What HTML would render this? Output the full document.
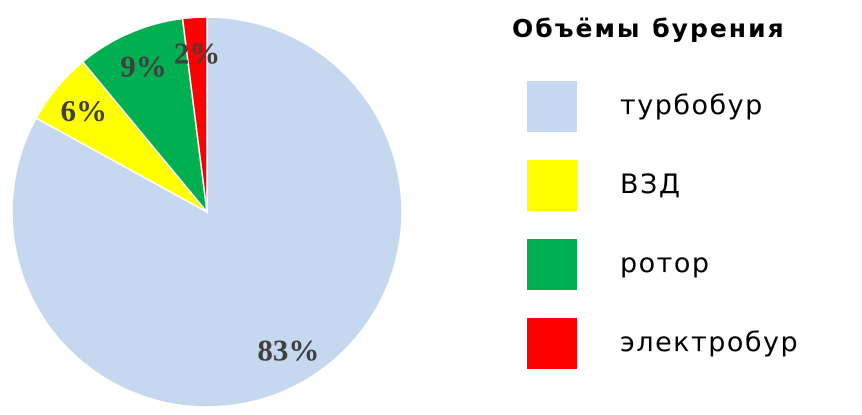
<!DOCTYPE html>
<html><head><meta charset="utf-8"><style>
html,body{margin:0;padding:0;background:#fff;width:862px;height:415px;overflow:hidden}
svg{display:block}
</style></head><body>
<svg id="chart" width="862" height="415" viewBox="0 0 862 415" xmlns="http://www.w3.org/2000/svg">
<g id="pie"></g>
<g id="labels"></g>
<text x="512" y="37" font-family="DejaVu Sans, sans-serif" font-weight="bold" font-size="25" letter-spacing="2" fill="#000">Объёмы бурения</text>
<g id="legend"></g>
</svg>
<script>
const categories = ["турбобур", "ВЗД", "ротор", "электробур"];
const values = [83, 6, 9, 2];
const valueLabels = ["83%", "6%", "9%", "2%"];
const colors = ["#c6d8f0", "#ffff00", "#00b050", "#ff0000"];
const NS = "http://www.w3.org/2000/svg";
const cx = 207, cy = 212, r = 195;
const total = values.reduce((a, b) => a + b, 0);
function pt(frac, rad) {
  const a = frac * 2 * Math.PI;
  return [cx + rad * Math.sin(a), cy - rad * Math.cos(a)];
}
const pie = document.getElementById("pie");
const labels = document.getElementById("labels");
const legend = document.getElementById("legend");
let acc = 0;
values.forEach((v, i) => {
  const f0 = acc / total, f1 = (acc + v) / total;
  acc += v;
  const [x0, y0] = pt(f0, r), [x1, y1] = pt(f1, r);
  const large = (f1 - f0) > 0.5 ? 1 : 0;
  const p = document.createElementNS(NS, "path");
  p.setAttribute("d", `M${cx},${cy} L${x0},${y0} A${r},${r} 0 ${large} 1 ${x1},${y1} Z`);
  p.setAttribute("fill", colors[i]);
  p.setAttribute("stroke", "#fff");
  p.setAttribute("stroke-width", "1.5");
  
  
  pie.appendChild(p);
  const mid = (f0 + f1) / 2;
  const [lx, ly] = pt(mid, r * 0.82);
  const t = document.createElementNS(NS, "text");
  t.setAttribute("x", lx);
  t.setAttribute("y", ly + 11);
  t.setAttribute("text-anchor", "middle");
  t.setAttribute("font-family", "Liberation Serif, serif");
  t.setAttribute("font-weight", "bold");
  t.setAttribute("font-size", "31");
  t.setAttribute("fill", "#404040");
  t.textContent = valueLabels[i];
  
  
  labels.appendChild(t);
  const ry = 81 + i * 79;
  const sq = document.createElementNS(NS, "rect");
  sq.setAttribute("x", 527); sq.setAttribute("y", ry);
  sq.setAttribute("width", 50); sq.setAttribute("height", 51);
  sq.setAttribute("fill", colors[i]);
  
  
  legend.appendChild(sq);
  const lt = document.createElementNS(NS, "text");
  lt.setAttribute("x", 620); lt.setAttribute("y", ry + 33);
  lt.setAttribute("font-family", "DejaVu Sans, sans-serif");
  lt.setAttribute("font-size", "27");
  lt.setAttribute("letter-spacing", "1.5");
  lt.setAttribute("fill", "#000");
  lt.textContent = categories[i];
  
  
  legend.appendChild(lt);
});
</script>
</body></html>
